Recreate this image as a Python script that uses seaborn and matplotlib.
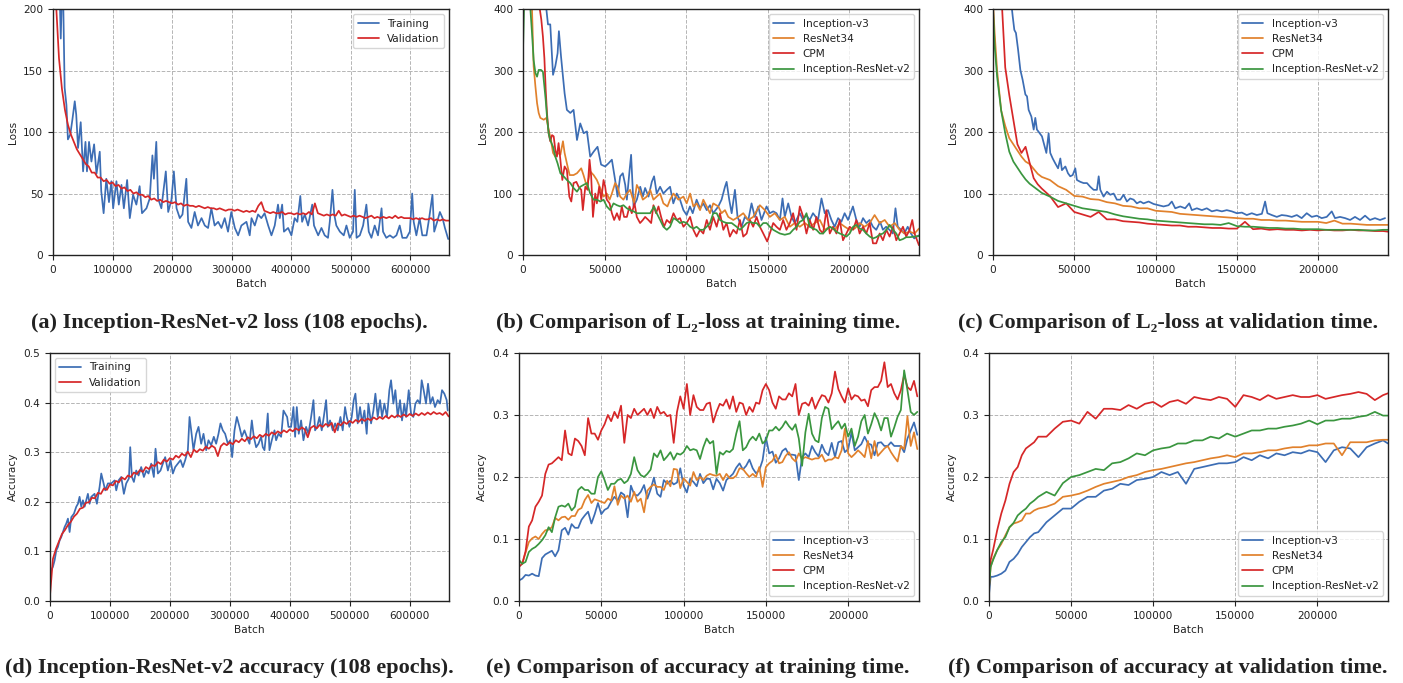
import matplotlib
matplotlib.use("Agg")
import matplotlib.pyplot as plt
import seaborn as sns

# colours of the four models / two curves
BLUE = "#3c6db4"
ORANGE = "#e1812c"
RED = "#d62728"
GREEN = "#3a963f"

# ---------------- (a) / (d): Inception-ResNet-v2, 108 epochs ----------------
long_batch = [
    0, 5000, 10000, 15000, 20000, 25000, 30000, 35000, 40000, 45000,
    50000, 55000, 60000, 65000, 70000, 75000, 80000, 85000, 90000, 95000,
    100000, 105000, 110000, 115000, 120000, 125000, 130000, 135000, 140000, 145000,
    150000, 155000, 160000, 165000, 170000, 175000, 180000, 185000, 190000, 195000,
    200000, 205000, 210000, 215000, 220000, 225000, 230000, 235000, 240000, 245000,
    250000, 255000, 260000, 265000, 270000, 275000, 280000, 285000, 290000, 295000,
    300000, 305000, 310000, 315000, 320000, 325000, 330000, 335000, 340000, 345000,
    350000, 355000, 360000, 365000, 370000, 375000, 380000, 385000, 390000, 395000,
    400000, 405000, 410000, 415000, 420000, 425000, 430000, 435000, 440000, 445000,
    450000, 455000, 460000, 465000, 470000, 475000, 480000, 485000, 490000, 495000,
    500000, 505000, 510000, 515000, 520000, 525000, 530000, 535000, 540000, 545000,
    550000, 555000, 560000, 565000, 570000, 575000, 580000, 585000, 590000, 595000,
    600000, 605000, 610000, 615000, 620000, 625000, 630000, 635000, 640000, 645000,
    650000, 655000, 660000, 665000,
]

a_train_batch = [
    2000, 5000, 8500, 11000, 13000, 14500, 17000, 19500, 22500, 25000,
    29000, 32500, 36500, 39000, 42000, 46500, 50500, 54500, 57000, 60500,
    64500, 69000, 73000, 78500, 81000, 85000, 89500, 94000, 98000, 101000,
    106500, 110500, 115000, 119000, 124500, 129000, 134500, 140000, 145500, 149500,
    157000, 162500, 167000, 169500, 173500, 176500, 182000, 189500, 193500, 199000,
    203000, 207500, 213000, 217500, 224000, 227000, 232500, 238000, 243500, 249500,
    255000, 260500, 266000, 271500, 277500, 283000, 288500, 294000, 299500, 305500,
    311000, 316500, 325000, 330500, 333500, 339000, 344500, 350000, 355500, 361500,
    367000, 372500, 378000, 381000, 385000, 388000, 395000, 400500, 406000, 410500,
    415500, 418500, 423000, 428500, 435500, 438500, 445500, 451000, 456500, 462000,
    465000, 469500, 472500, 476000, 482000, 488500, 493000, 498500, 504000, 507000,
    510000, 515500, 521000, 526500, 530500, 535000, 540500, 546000, 552000, 554500,
    560000, 566000, 571500, 577000, 582500, 587000, 594000, 599500, 603500, 606000,
    610500, 616000, 620500, 627500, 632000, 637500, 640500, 645500, 650000, 654500,
    658500, 664000,
]
a_train_loss = [
    290, 260, 240, 215, 176, 205, 210, 136, 122, 94,
    98, 110, 125, 114, 87, 108, 68, 92, 68, 92,
    76, 90, 66, 84, 52, 34, 62, 43, 60, 38,
    60, 41, 57, 38, 61, 30, 49, 41, 56, 34,
    38, 46, 81, 62, 92, 46, 38, 68, 35, 45,
    68, 38, 30, 33, 62, 27, 22, 35, 24, 30,
    24, 22, 38, 24, 27, 22, 30, 19, 35, 22,
    16, 24, 27, 16, 30, 24, 33, 30, 34, 24,
    16, 24, 41, 30, 41, 19, 22, 16, 30, 27,
    48, 27, 33, 24, 41, 24, 16, 22, 16, 14,
    27, 53, 33, 24, 19, 16, 24, 14, 19, 53,
    14, 16, 24, 41, 19, 14, 24, 16, 38, 19,
    14, 16, 14, 16, 24, 14, 14, 19, 50, 27,
    16, 30, 16, 16, 30, 49, 19, 27, 35, 30,
    22, 13,
]
a_val_loss = [
    300, 205, 160, 135, 118, 106, 98, 92, 86, 82,
    78, 74, 72, 67, 67, 63, 63, 60, 61, 58,
    59, 56, 57, 54, 55, 52, 53, 50, 51, 49,
    49, 47, 48, 45, 46, 44, 45, 43, 44, 43,
    42, 43, 41, 42, 40, 41, 40, 40, 39, 40,
    39, 38, 39, 38, 38, 37, 38, 37, 36, 37,
    37, 36, 37, 36, 35, 36, 35, 36, 35, 40,
    43, 36, 35, 34, 35, 34, 34, 35, 33, 34,
    34, 33, 34, 33, 34, 33, 35, 33, 42, 34,
    33, 32, 33, 32, 33, 32, 36, 32, 33, 32,
    31, 32, 31, 32, 31, 30, 31, 32, 30, 31,
    30, 31, 30, 31, 30, 32, 30, 31, 30, 30,
    30, 29, 30, 29, 30, 29, 29, 30, 28, 29,
    28, 29, 28, 28,
]

d_train_batch = [
    0, 2200, 5000, 7800, 10600, 13300, 16100, 18900, 21700, 24400,
    27200, 30000, 32800, 35600, 40000, 43900, 46700, 49400, 52200, 55000,
    57800, 60600, 63300, 66100, 68900, 74400, 78300, 82800, 85600, 88300,
    92200, 96700, 102200, 107800, 110600, 114400, 118900, 123300, 127200, 131700,
    133900, 136700, 140000, 143900, 147800, 152200, 156700, 160600, 164400, 168900,
    173300, 176100, 180000, 184400, 188300, 192200, 196700, 201100, 205000, 208900,
    213300, 217800, 221700, 225600, 230000, 232800, 235600, 239400, 243900, 247800,
    252200, 256100, 260600, 264400, 268900, 273300, 277200, 281100, 284400, 288300,
    292200, 296700, 300600, 303900, 307800, 311700, 316100, 320000, 324400, 328300,
    332800, 336700, 340000, 343900, 347800, 352200, 355000, 357800, 360600, 363300,
    366100, 370000, 374500, 377200, 381100, 385600, 389500, 392200, 395600, 397800,
    402200, 406100, 408900, 411700, 415000, 418900, 422800, 427200, 431100, 435600,
    439500, 442200, 445600, 449500, 453300, 456700, 460600, 463300, 467200, 471700,
    475600, 480000, 484500, 488300, 492200, 495000, 499500, 503300, 506700, 509500,
    513300, 517200, 520600, 524500, 528300, 531100, 535600, 539500, 542800, 546700,
    550600, 553900, 557800, 562200, 566100, 568900, 572800, 576100, 580000, 583900,
    587200, 591100, 593900, 598400, 602200, 606100, 609500, 613300, 617200, 620000,
    623300, 627200, 630600, 634500, 638300, 642200, 646700, 650600, 653900, 657800,
    661700, 663400,
]
d_train_acc = [
    0.048, 0.062, 0.069, 0.082, 0.102, 0.109, 0.122, 0.129, 0.139, 0.149,
    0.156, 0.166, 0.139, 0.169, 0.176, 0.190, 0.196, 0.210, 0.190, 0.203,
    0.190, 0.203, 0.216, 0.196, 0.210, 0.216, 0.196, 0.230, 0.257, 0.243,
    0.223, 0.237, 0.237, 0.243, 0.223, 0.243, 0.250, 0.216, 0.237, 0.247,
    0.310, 0.250, 0.240, 0.263, 0.253, 0.270, 0.250, 0.263, 0.257, 0.277,
    0.250, 0.307, 0.257, 0.263, 0.277, 0.290, 0.263, 0.284, 0.257, 0.270,
    0.277, 0.284, 0.270, 0.284, 0.304, 0.371, 0.344, 0.304, 0.337, 0.351,
    0.317, 0.337, 0.304, 0.324, 0.314, 0.331, 0.317, 0.337, 0.358, 0.344,
    0.337, 0.317, 0.324, 0.290, 0.344, 0.371, 0.351, 0.331, 0.344, 0.331,
    0.317, 0.364, 0.331, 0.310, 0.317, 0.331, 0.310, 0.304, 0.337, 0.378,
    0.304, 0.324, 0.344, 0.324, 0.337, 0.331, 0.384, 0.378, 0.371, 0.351,
    0.351, 0.391, 0.331, 0.391, 0.337, 0.364, 0.324, 0.351, 0.337, 0.371,
    0.405, 0.344, 0.351, 0.371, 0.344, 0.371, 0.405, 0.351, 0.364, 0.344,
    0.358, 0.344, 0.371, 0.344, 0.391, 0.371, 0.351, 0.371, 0.405, 0.418,
    0.358, 0.391, 0.358, 0.384, 0.337, 0.398, 0.358, 0.384, 0.418, 0.371,
    0.405, 0.371, 0.398, 0.371, 0.425, 0.445, 0.398, 0.425, 0.371, 0.405,
    0.364, 0.398, 0.371, 0.425, 0.378, 0.371, 0.398, 0.405, 0.398, 0.445,
    0.425, 0.398, 0.438, 0.398, 0.411, 0.391, 0.405, 0.398, 0.425, 0.418,
    0.405, 0.384,
]
d_val_acc = [
    0.010, 0.085, 0.105, 0.120, 0.135, 0.143, 0.153, 0.160, 0.170, 0.176,
    0.186, 0.188, 0.198, 0.199, 0.208, 0.207, 0.218, 0.216, 0.227, 0.224,
    0.235, 0.233, 0.242, 0.239, 0.249, 0.245, 0.253, 0.250, 0.259, 0.256,
    0.264, 0.260, 0.270, 0.266, 0.274, 0.272, 0.280, 0.276, 0.285, 0.281,
    0.288, 0.285, 0.293, 0.289, 0.297, 0.293, 0.301, 0.290, 0.305, 0.300,
    0.306, 0.303, 0.311, 0.307, 0.313, 0.309, 0.292, 0.312, 0.318, 0.314,
    0.320, 0.316, 0.324, 0.320, 0.327, 0.322, 0.330, 0.326, 0.332, 0.328,
    0.335, 0.331, 0.337, 0.333, 0.340, 0.336, 0.342, 0.338, 0.344, 0.340,
    0.346, 0.342, 0.348, 0.344, 0.350, 0.346, 0.330, 0.349, 0.353, 0.348,
    0.355, 0.351, 0.357, 0.353, 0.359, 0.340, 0.358, 0.354, 0.361, 0.357,
    0.363, 0.359, 0.365, 0.361, 0.367, 0.363, 0.368, 0.364, 0.370, 0.366,
    0.371, 0.367, 0.373, 0.368, 0.374, 0.370, 0.375, 0.371, 0.376, 0.372,
    0.377, 0.373, 0.378, 0.374, 0.379, 0.375, 0.380, 0.376, 0.381, 0.377,
    0.379, 0.375, 0.381, 0.372,
]

# ---------------- (b): L2-loss at training time ----------------
b_incv3_batch = [
    0, 5000, 10000, 14300, 15300, 16700, 18400, 19800, 21200, 22000,
    23300, 24500, 25500, 26900, 29000, 31000, 33100, 35100, 37200, 39200,
    41200, 43300, 45700, 47900, 50400, 52400, 54500, 56500, 58000, 59600,
    61200, 62700, 63700, 65300, 66300, 67800, 69800, 71900, 73500, 74900,
    77000, 79000, 80400, 82000, 84100, 86100, 88200, 90200, 92200, 94300,
    96300, 98400, 100400, 102400, 104100, 106500, 108600, 110600, 112700, 114700,
    116700, 119800, 121800, 123900, 124900, 126500, 128000, 130000, 131600, 134100,
    136100, 138200, 140200, 142200, 144300, 146300, 149400, 151400, 153500, 155500,
    157600, 159200, 160600, 162700, 164700, 166700, 169800, 171800, 173800, 175900,
    177900, 181000, 183100, 185100, 187100, 189200, 191200, 193300, 195300, 197300,
    199400, 202400, 204500, 206500, 208600, 210600, 212600, 214700, 216700, 219100,
    220800, 222800, 224800, 226900, 228500, 229900, 231900, 233900, 236000, 238000,
    240000, 242900,
]
b_incv3_loss = [
    560, 520, 460, 400, 375, 375, 293, 307, 328, 364,
    323, 290, 263, 236, 231, 236, 187, 214, 198, 201,
    160, 168, 176, 147, 144, 149, 155, 122, 95, 128,
    133, 114, 90, 136, 163, 79, 90, 111, 95, 109,
    95, 119, 128, 100, 111, 100, 106, 111, 84, 100,
    90, 73, 65, 79, 68, 90, 76, 84, 73, 81,
    68, 79, 90, 111, 119, 90, 68, 106, 62, 46,
    62, 57, 84, 62, 79, 57, 79, 68, 71, 68,
    57, 92, 62, 84, 62, 52, 68, 57, 65, 57,
    68, 57, 92, 68, 73, 57, 46, 60, 54, 68,
    57, 79, 57, 46, 60, 52, 57, 46, 41, 54,
    41, 46, 41, 35, 76, 46, 41, 35, 46, 35,
    27, 32,
]

b_resnet_batch = [
    0, 2500, 5500, 6500, 7600, 8600, 9600, 10600, 12700, 14300,
    15700, 17100, 18400, 19800, 21400, 22900, 24500, 25500, 26900, 28600,
    31000, 33100, 35700, 37100, 39200, 41200, 43300, 45300, 47800, 49400,
    51400, 53100, 54500, 56500, 58000, 59600, 61600, 63700, 65700, 68200,
    69800, 71400, 73500, 75900, 78000, 80000, 82000, 84100, 86100, 88600,
    90200, 92300, 95300, 98400, 100400, 102500, 104500, 106500, 108600, 110600,
    112700, 114700, 116700, 119800, 121800, 123900, 125900, 129000, 132100, 135100,
    138200, 141200, 145300, 148400, 151400, 154500, 157600, 160600, 163700, 166700,
    169800, 172900, 175900, 179000, 182100, 185100, 188200, 191200, 194300, 197400,
    200400, 203500, 206500, 209600, 212700, 215700, 218800, 221900, 224900, 228000,
    231000, 234100, 237200, 240200, 242900,
]
b_resnet_loss = [
    480, 440, 400, 307, 274, 247, 231, 223, 220, 223,
    204, 187, 166, 160, 166, 163, 185, 166, 149, 130,
    130, 133, 141, 130, 111, 136, 130, 122, 106, 95,
    100, 90, 100, 117, 111, 95, 90, 100, 106, 84,
    114, 106, 90, 95, 106, 90, 95, 100, 84, 79,
    90, 100, 90, 95, 84, 100, 79, 84, 73, 90,
    79, 68, 84, 79, 68, 73, 62, 57, 62, 68,
    57, 62, 81, 73, 62, 68, 57, 62, 46, 52,
    46, 52, 46, 52, 57, 41, 46, 41, 52, 46,
    41, 43, 52, 46, 52, 65, 52, 57, 46, 52,
    41, 35, 38, 35, 43,
]

b_cpm_batch = [
    0, 5000, 8000, 10000, 11200, 12200, 13100, 13900, 14700, 15700,
    16700, 17800, 18800, 19800, 20800, 21800, 22900, 24100, 25500, 26900,
    28400, 29600, 31000, 32700, 34100, 35700, 36700, 38200, 39600, 40800,
    41800, 42900, 44300, 45300, 46700, 48000, 49400, 50400, 51400, 53100,
    54500, 55900, 57600, 59200, 60600, 62000, 63700, 65300, 66700, 68400,
    69800, 71800, 73500, 74900, 76900, 78600, 80000, 81600, 83100, 84700,
    86500, 88200, 90200, 92300, 94300, 96300, 98400, 100400, 102500, 104500,
    106500, 108600, 110600, 112700, 114700, 116700, 118800, 120800, 122900, 124900,
    126900, 129000, 131000, 133100, 135100, 137200, 139200, 141200, 143300, 145300,
    147400, 149800, 151400, 153500, 155500, 157600, 159600, 161600, 163700, 165700,
    167800, 169800, 171900, 173900, 175900, 178000, 180000, 182100, 184100, 186100,
    188200, 190200, 192300, 194300, 196300, 198400, 200400, 202500, 204500, 206500,
    208600, 210600, 212700, 214700, 216700, 218800, 220800, 222900, 224900, 227000,
    229000, 231000, 233100, 235100, 237200, 238800, 240200, 242900,
]
b_cpm_loss = [
    700, 520, 430, 405, 383, 355, 320, 269, 231, 198,
    185, 195, 193, 171, 160, 182, 155, 122, 144, 138,
    95, 87, 117, 119, 111, 106, 73, 111, 106, 155,
    128, 62, 100, 84, 111, 90, 122, 111, 90, 84,
    68, 57, 68, 57, 79, 62, 62, 79, 68, 84,
    62, 52, 57, 62, 57, 52, 81, 68, 79, 62,
    46, 57, 52, 68, 57, 60, 46, 52, 62, 41,
    30, 41, 35, 57, 41, 62, 46, 68, 41, 52,
    30, 41, 35, 57, 30, 35, 57, 46, 62, 46,
    35, 22, 35, 52, 46, 41, 57, 41, 52, 68,
    41, 79, 62, 35, 57, 41, 62, 41, 35, 73,
    35, 46, 35, 57, 24, 35, 46, 41, 57, 35,
    46, 35, 52, 19, 19, 35, 24, 41, 30, 46,
    24, 35, 46, 30, 41, 57, 35, 16,
]

b_irv2_batch = [
    0, 800, 3000, 4500, 5500, 6500, 7600, 8600, 9600, 11000,
    12200, 13100, 13900, 14700, 15700, 16700, 18400, 19800, 21200, 22900,
    24900, 26900, 29000, 31000, 33100, 35100, 37100, 39200, 41200, 43300,
    45300, 47400, 49400, 51400, 53500, 55500, 57600, 59600, 61600, 63700,
    65700, 67800, 69800, 73900, 78000, 80400, 82000, 84100, 86100, 88200,
    90200, 92300, 94300, 96300, 98400, 100400, 102500, 104500, 106500, 108600,
    110600, 112700, 114700, 116700, 118800, 120800, 122900, 124900, 128000, 131000,
    133100, 135100, 137200, 139200, 141200, 143300, 145300, 147400, 149400, 151400,
    153500, 155500, 157600, 160600, 163700, 165700, 167800, 169800, 171900, 173900,
    175900, 178000, 180000, 182100, 184100, 186100, 188200, 190200, 192300, 194300,
    196300, 198400, 200400, 202500, 204500, 206500, 208600, 210600, 212700, 214700,
    216700, 218800, 220800, 222900, 224900, 227000, 229000, 231000, 233100, 235100,
    237200, 240200, 242900,
]
b_irv2_loss = [
    335, 420, 450, 400, 361, 317, 296, 290, 301, 301,
    298, 274, 252, 225, 198, 187, 176, 160, 149, 133,
    128, 122, 117, 109, 103, 111, 114, 117, 100, 90,
    90, 87, 90, 79, 73, 84, 81, 79, 81, 76,
    73, 71, 68, 68, 68, 79, 68, 57, 46, 41,
    46, 60, 57, 52, 54, 52, 46, 43, 46, 41,
    41, 46, 52, 68, 68, 57, 54, 52, 52, 46,
    41, 46, 52, 54, 52, 52, 46, 52, 52, 46,
    41, 38, 35, 33, 35, 41, 46, 54, 57, 68,
    46, 43, 41, 35, 35, 41, 46, 43, 38, 35,
    33, 30, 35, 46, 49, 43, 41, 35, 30, 27,
    29, 33, 35, 41, 49, 41, 35, 24, 26, 29,
    29, 30, 31,
]

# ---------------- (c) / (f): validation time ----------------
c_incv3_batch = [
    0, 5000, 10000, 12100, 13100, 14100, 15400, 16800, 18200, 19900,
    20900, 21900, 23600, 25000, 26000, 27000, 28700, 30100, 31800, 32800,
    34200, 35200, 36700, 38300, 40000, 41400, 42400, 44500, 46100, 47500,
    49000, 50600, 51600, 53700, 55700, 57800, 59800, 61900, 63900, 65000,
    66000, 68000, 70100, 72100, 74200, 76200, 78300, 80300, 82400, 84400,
    86500, 88500, 90600, 92600, 95700, 98800, 101800, 104900, 108000, 110000,
    112100, 115200, 118200, 120700, 122300, 125400, 128500, 131500, 134600, 137700,
    140800, 143800, 146900, 150000, 153100, 156100, 159200, 162300, 165400, 167400,
    168800, 171500, 174600, 177600, 180700, 183800, 186900, 189900, 193000, 196100,
    199200, 202200, 205300, 208400, 210400, 213500, 216600, 219700, 222700, 225800,
    228900, 231900, 235000, 238100, 241200,
]
c_incv3_loss = [
    800, 560, 440, 388, 366, 361, 334, 301, 285, 261,
    258, 236, 225, 204, 223, 204, 198, 193, 176, 166,
    198, 166, 157, 149, 141, 157, 138, 144, 133, 128,
    130, 141, 122, 119, 117, 117, 111, 106, 106, 128,
    106, 95, 103, 98, 100, 90, 90, 98, 87, 92,
    90, 84, 87, 84, 87, 83, 81, 79, 81, 87,
    76, 79, 76, 84, 73, 76, 73, 76, 71, 73,
    71, 73, 71, 68, 69, 65, 68, 65, 67, 87,
    68, 65, 62, 65, 64, 62, 65, 60, 68, 62,
    64, 60, 62, 71, 60, 62, 60, 57, 62, 57,
    64, 57, 60, 57, 60,
]

val_batch = [
    0, 1000, 2500, 5000, 7500, 10000, 12500, 15000, 17500, 20000, 22500, 25000, 27500, 30000,
    35000, 40000, 45000, 50000, 55000, 60000, 65000, 70000, 75000, 80000, 85000, 90000, 95000, 100000,
    105000, 110000, 115000, 120000, 125000, 130000, 135000, 140000, 145000, 150000, 155000, 160000, 165000,
    170000, 175000, 180000, 185000, 190000, 195000, 200000, 205000, 210000, 215000, 220000, 225000, 230000,
    235000, 240000, 243000,
]
c_resnet_loss = [
    410, 360, 300, 235, 210, 190, 180, 170, 160, 152, 148, 140, 132, 127,
    122, 112, 106, 96, 95, 91, 90, 86, 84, 80, 79, 76, 76, 72,
    71, 70, 67, 66, 65, 64, 63, 62, 61, 60, 59, 59, 57,
    57, 56, 56, 55, 54, 54, 54, 52, 56, 51, 51, 50, 49,
    49, 49, 49,
]
c_cpm_loss = [
    620, 580, 520, 430, 305, 260, 220, 180, 166, 176, 150, 125, 115, 108,
    96, 78, 84, 70, 66, 62, 70, 58, 58, 55, 54, 53, 51, 50,
    49, 48, 48, 46, 46, 45, 44, 44, 43, 43, 54, 42, 43,
    41, 42, 41, 41, 40, 41, 40, 41, 40, 40, 41, 40, 40,
    39, 39, 38,
]
c_irv2_loss = [
    400, 340, 290, 235, 198, 168, 152, 142, 132, 123, 116, 111, 106, 101,
    95, 88, 84, 80, 76, 74, 72, 70, 66, 63, 61, 59, 58, 56,
    55, 54, 53, 52, 51, 50, 50, 49, 52, 47, 46, 46, 45,
    44, 44, 43, 43, 42, 42, 42, 41, 41, 41, 41, 41, 40,
    40, 41, 41,
]

f_incv3_acc = [
    0.010, 0.039, 0.039, 0.041, 0.044, 0.049, 0.063, 0.068, 0.076, 0.087, 0.095, 0.103, 0.109, 0.111,
    0.127, 0.138, 0.149, 0.149, 0.160, 0.168, 0.168, 0.178, 0.181, 0.189, 0.187, 0.195, 0.197, 0.200,
    0.208, 0.203, 0.208, 0.189, 0.213, 0.216, 0.219, 0.222, 0.222, 0.224, 0.232, 0.227, 0.235,
    0.230, 0.238, 0.235, 0.240, 0.238, 0.243, 0.240, 0.224, 0.243, 0.248, 0.246, 0.232, 0.248,
    0.254, 0.259, 0.254,
]
f_resnet_acc = [
    0.020, 0.055, 0.068, 0.082, 0.092, 0.106, 0.119, 0.125, 0.127, 0.130, 0.141, 0.141, 0.146, 0.149,
    0.152, 0.157, 0.168, 0.170, 0.173, 0.178, 0.184, 0.189, 0.192, 0.195, 0.200, 0.203, 0.208, 0.211,
    0.213, 0.216, 0.219, 0.222, 0.224, 0.227, 0.230, 0.232, 0.235, 0.232, 0.238, 0.238, 0.240,
    0.243, 0.243, 0.246, 0.248, 0.248, 0.251, 0.251, 0.254, 0.254, 0.235, 0.256, 0.256, 0.256,
    0.259, 0.260, 0.260,
]
f_cpm_acc = [
    0.020, 0.066, 0.082, 0.114, 0.141, 0.162, 0.189, 0.208, 0.216, 0.235, 0.246, 0.251, 0.256, 0.265,
    0.265, 0.278, 0.289, 0.291, 0.286, 0.305, 0.294, 0.310, 0.310, 0.308, 0.316, 0.310, 0.318, 0.321,
    0.313, 0.321, 0.324, 0.318, 0.329, 0.326, 0.324, 0.329, 0.326, 0.313, 0.332, 0.329, 0.324,
    0.332, 0.326, 0.329, 0.332, 0.329, 0.329, 0.332, 0.326, 0.329, 0.332, 0.334, 0.337, 0.334,
    0.324, 0.332, 0.335,
]
f_irv2_acc = [
    0.020, 0.055, 0.066, 0.082, 0.095, 0.103, 0.119, 0.126, 0.138, 0.144, 0.149, 0.157, 0.162, 0.168,
    0.176, 0.170, 0.190, 0.200, 0.203, 0.208, 0.213, 0.211, 0.222, 0.224, 0.230, 0.238, 0.235, 0.243,
    0.246, 0.248, 0.254, 0.254, 0.259, 0.259, 0.265, 0.262, 0.270, 0.265, 0.270, 0.275, 0.275,
    0.278, 0.278, 0.281, 0.283, 0.286, 0.291, 0.285, 0.291, 0.291, 0.294, 0.294, 0.297, 0.299,
    0.305, 0.299, 0.299,
]

# ---------------- (e): accuracy at training time ----------------
e_batch = [
    0, 2000, 4000, 6000, 8000, 10000, 12000, 14000, 16000, 18000,
    20000, 22000, 24000, 26000, 28000, 30000, 32000, 34000, 36000, 38000,
    40000, 42000, 44000, 46000, 48000, 50000, 52000, 54000, 56000, 58000,
    60000, 62000, 64000, 66000, 68000, 70000, 72000, 74000, 76000, 78000,
    80000, 82000, 84000, 86000, 88000, 90000, 92000, 94000, 96000, 98000,
    100000, 102000, 104000, 106000, 108000, 110000, 112000, 114000, 116000, 118000,
    120000, 122000, 124000, 126000, 128000, 130000, 132000, 134000, 136000, 138000,
    140000, 142000, 144000, 146000, 148000, 150000, 152000, 154000, 156000, 158000,
    160000, 162000, 164000, 166000, 168000, 170000, 172000, 174000, 176000, 178000,
    180000, 182000, 184000, 186000, 188000, 190000, 192000, 194000, 196000, 198000,
    200000, 202000, 204000, 206000, 208000, 210000, 212000, 214000, 216000, 218000,
    220000, 222000, 224000, 226000, 228000, 230000, 232000, 234000, 236000, 238000,
    240000, 242000,
]
e_incv3_acc = [
    0.033, 0.036, 0.042, 0.041, 0.044, 0.041, 0.040, 0.069, 0.075, 0.078,
    0.081, 0.072, 0.082, 0.114, 0.118, 0.107, 0.124, 0.118, 0.118, 0.131,
    0.138, 0.144, 0.125, 0.140, 0.158, 0.140, 0.147, 0.150, 0.160, 0.168,
    0.162, 0.175, 0.171, 0.135, 0.186, 0.172, 0.170, 0.176, 0.187, 0.165,
    0.180, 0.199, 0.173, 0.168, 0.195, 0.189, 0.194, 0.188, 0.191, 0.214,
    0.186, 0.175, 0.197, 0.192, 0.185, 0.205, 0.190, 0.197, 0.197, 0.180,
    0.197, 0.190, 0.178, 0.195, 0.200, 0.205, 0.215, 0.222, 0.212, 0.218,
    0.228, 0.214, 0.206, 0.211, 0.227, 0.264, 0.238, 0.241, 0.223, 0.230,
    0.242, 0.246, 0.236, 0.236, 0.235, 0.195, 0.232, 0.238, 0.232, 0.250,
    0.240, 0.233, 0.252, 0.240, 0.235, 0.255, 0.232, 0.256, 0.258, 0.240,
    0.245, 0.272, 0.243, 0.248, 0.253, 0.265, 0.254, 0.252, 0.235, 0.255,
    0.256, 0.250, 0.250, 0.256, 0.250, 0.250, 0.250, 0.240, 0.262, 0.275,
    0.288, 0.268,
]
e_resnet_acc = [
    0.065, 0.060, 0.078, 0.095, 0.101, 0.104, 0.100, 0.108, 0.114, 0.115,
    0.119, 0.134, 0.130, 0.135, 0.136, 0.131, 0.137, 0.137, 0.147, 0.150,
    0.163, 0.171, 0.158, 0.164, 0.162, 0.160, 0.158, 0.165, 0.162, 0.185,
    0.155, 0.170, 0.165, 0.170, 0.160, 0.176, 0.160, 0.165, 0.143, 0.178,
    0.184, 0.188, 0.184, 0.184, 0.179, 0.194, 0.185, 0.213, 0.212, 0.182,
    0.198, 0.192, 0.186, 0.208, 0.195, 0.200, 0.195, 0.202, 0.205, 0.203,
    0.202, 0.205, 0.195, 0.205, 0.198, 0.198, 0.202, 0.214, 0.213, 0.206,
    0.200, 0.205, 0.200, 0.216, 0.184, 0.216, 0.222, 0.226, 0.236, 0.222,
    0.224, 0.234, 0.240, 0.230, 0.225, 0.238, 0.229, 0.232, 0.230, 0.228,
    0.230, 0.230, 0.236, 0.225, 0.228, 0.228, 0.232, 0.230, 0.243, 0.278,
    0.238, 0.232, 0.237, 0.243, 0.238, 0.232, 0.258, 0.230, 0.258, 0.234,
    0.240, 0.246, 0.250, 0.240, 0.232, 0.225, 0.250, 0.245, 0.298, 0.250,
    0.272, 0.245,
]
e_cpm_acc = [
    0.055, 0.060, 0.080, 0.120, 0.130, 0.152, 0.160, 0.170, 0.205, 0.220,
    0.222, 0.227, 0.232, 0.227, 0.275, 0.238, 0.235, 0.262, 0.258, 0.250,
    0.235, 0.295, 0.270, 0.270, 0.260, 0.275, 0.285, 0.300, 0.290, 0.305,
    0.295, 0.315, 0.255, 0.300, 0.295, 0.310, 0.300, 0.305, 0.310, 0.300,
    0.310, 0.295, 0.313, 0.302, 0.305, 0.298, 0.300, 0.255, 0.305, 0.330,
    0.310, 0.350, 0.300, 0.332, 0.313, 0.308, 0.308, 0.318, 0.320, 0.288,
    0.305, 0.318, 0.315, 0.325, 0.310, 0.330, 0.305, 0.320, 0.318, 0.300,
    0.313, 0.305, 0.320, 0.318, 0.340, 0.350, 0.340, 0.320, 0.310, 0.330,
    0.325, 0.325, 0.335, 0.330, 0.350, 0.300, 0.318, 0.320, 0.315, 0.328,
    0.310, 0.322, 0.332, 0.330, 0.320, 0.335, 0.370, 0.342, 0.330, 0.320,
    0.343, 0.325, 0.332, 0.330, 0.323, 0.325, 0.314, 0.340, 0.345, 0.345,
    0.355, 0.385, 0.345, 0.350, 0.335, 0.325, 0.340, 0.365, 0.345, 0.340,
    0.355, 0.330,
]
e_irv2_acc = [
    0.066, 0.060, 0.063, 0.079, 0.084, 0.087, 0.092, 0.098, 0.106, 0.119,
    0.111, 0.135, 0.152, 0.154, 0.152, 0.157, 0.146, 0.152, 0.179, 0.184,
    0.179, 0.179, 0.173, 0.173, 0.200, 0.209, 0.195, 0.179, 0.189, 0.189,
    0.195, 0.197, 0.190, 0.194, 0.205, 0.232, 0.211, 0.203, 0.200, 0.205,
    0.212, 0.238, 0.232, 0.243, 0.227, 0.233, 0.240, 0.228, 0.238, 0.236,
    0.240, 0.250, 0.243, 0.245, 0.243, 0.229, 0.248, 0.262, 0.254, 0.258,
    0.205, 0.240, 0.236, 0.242, 0.240, 0.245, 0.270, 0.290, 0.243, 0.248,
    0.259, 0.265, 0.259, 0.270, 0.254, 0.259, 0.275, 0.275, 0.281, 0.275,
    0.281, 0.290, 0.282, 0.276, 0.285, 0.262, 0.218, 0.272, 0.302, 0.270,
    0.259, 0.256, 0.295, 0.313, 0.310, 0.277, 0.284, 0.290, 0.278, 0.286,
    0.265, 0.278, 0.250, 0.265, 0.290, 0.300, 0.270, 0.285, 0.303, 0.292,
    0.275, 0.295, 0.295, 0.265, 0.280, 0.297, 0.308, 0.372, 0.340, 0.305,
    0.300, 0.305,
]

model_names = ["Inception-v3", "ResNet34", "CPM", "Inception-ResNet-v2"]

captions = [
    "(a) Inception-ResNet-v2 loss (108 epochs).",
    "(b) Comparison of L\u2082-loss at training time.",
    "(c) Comparison of L\u2082-loss at validation time.",
    "(d) Inception-ResNet-v2 accuracy (108 epochs).",
    "(e) Comparison of accuracy at training time.",
    "(f) Comparison of accuracy at validation time.",
]

# ---------------- styling ----------------
sns.set_style("ticks")
plt.rcParams["font.family"] = ["DejaVu Sans"]
plt.rcParams.update({
    "axes.edgecolor": "#222222",
    "axes.linewidth": 1.0,
    "xtick.major.size": 3.5,
    "ytick.major.size": 3.5,
    "xtick.major.width": 0.8,
    "ytick.major.width": 0.8,
    "xtick.labelsize": 7.6,
    "ytick.labelsize": 7.6,
    "axes.labelsize": 7.6,
    "xtick.color": "#222222",
    "ytick.color": "#222222",
    "text.color": "#222222",
    "axes.labelcolor": "#222222",
})

fig = plt.figure(figsize=(14.03, 6.83), dpi=100)


def draw(rect, series, ylim, yticks, ylabel, xmax, xticks, loc):
    ax = fig.add_axes(rect)
    for name, xs, ys, color in series:
        sns.lineplot(x=xs, y=ys, ax=ax, color=color, linewidth=1.25,
                     label=name, estimator=None, sort=False)
    ax.set_xlim(0, xmax)
    ax.set_ylim(*ylim)
    ax.set_xticks(xticks)
    ax.set_yticks(yticks)
    ax.ticklabel_format(style="plain", axis="x", useOffset=False)
    ax.set_xlabel("Batch", labelpad=3)
    ax.set_ylabel(ylabel, labelpad=4)
    ax.grid(True, linestyle="--", color="#b5b5b5", linewidth=0.7)
    ax.set_axisbelow(True)
    ax.legend(loc=loc, fontsize=7.6, frameon=True, borderaxespad=0.5)
    return ax


long_ticks = [0, 100000, 200000, 300000, 400000, 500000, 600000]
cmp_ticks = [0, 50000, 100000, 150000, 200000]

draw([0.0378, 0.6266, 0.2823, 0.3602],
     [("Training", a_train_batch, a_train_loss, BLUE),
      ("Validation", long_batch, a_val_loss, RED)],
     (0, 200), [0, 50, 100, 150, 200], "Loss", 665500, long_ticks, "upper right")

draw([0.3728, 0.6266, 0.2823, 0.3602],
     [(model_names[0], b_incv3_batch, b_incv3_loss, BLUE),
      (model_names[1], b_resnet_batch, b_resnet_loss, ORANGE),
      (model_names[2], b_cpm_batch, b_cpm_loss, RED),
      (model_names[3], b_irv2_batch, b_irv2_loss, GREEN)],
     (0, 400), [0, 100, 200, 300, 400], "Loss", 243000, cmp_ticks, "upper right")

draw([0.7078, 0.6266, 0.2815, 0.3602],
     [(model_names[0], c_incv3_batch, c_incv3_loss, BLUE),
      (model_names[1], val_batch, c_resnet_loss, ORANGE),
      (model_names[2], val_batch, c_cpm_loss, RED),
      (model_names[3], val_batch, c_irv2_loss, GREEN)],
     (0, 400), [0, 100, 200, 300, 400], "Loss", 243000, cmp_ticks, "upper right")

draw([0.0356, 0.1201, 0.2844, 0.3631],
     [("Training", d_train_batch, d_train_acc, BLUE),
      ("Validation", long_batch, d_val_acc, RED)],
     (0, 0.5), [0.0, 0.1, 0.2, 0.3, 0.4, 0.5], "Accuracy", 665500, long_ticks, "upper left")

draw([0.3699, 0.1201, 0.2851, 0.3631],
     [(model_names[0], e_batch, e_incv3_acc, BLUE),
      (model_names[1], e_batch, e_resnet_acc, ORANGE),
      (model_names[2], e_batch, e_cpm_acc, RED),
      (model_names[3], e_batch, e_irv2_acc, GREEN)],
     (0, 0.4), [0.0, 0.1, 0.2, 0.3, 0.4], "Accuracy", 243000, cmp_ticks, "lower right")

draw([0.7049, 0.1201, 0.2844, 0.3631],
     [(model_names[0], val_batch, f_incv3_acc, BLUE),
      (model_names[1], val_batch, f_resnet_acc, ORANGE),
      (model_names[2], val_batch, f_cpm_acc, RED),
      (model_names[3], val_batch, f_irv2_acc, GREEN)],
     (0, 0.4), [0.0, 0.1, 0.2, 0.3, 0.4], "Accuracy", 243000, cmp_ticks, "lower right")

# subfigure captions
cap_x = [229 / 1403, 698 / 1403, 1168 / 1403]
cap_y = [1 - 323 / 683, 1 - 668 / 683]
for i, text in enumerate(captions):
    fig.text(cap_x[i % 3], cap_y[i // 3], text, ha="center", va="center",
             fontsize=16, fontweight="bold",
             family=["Liberation Serif", "DejaVu Serif"])

fig.savefig("out.png", dpi=100)
